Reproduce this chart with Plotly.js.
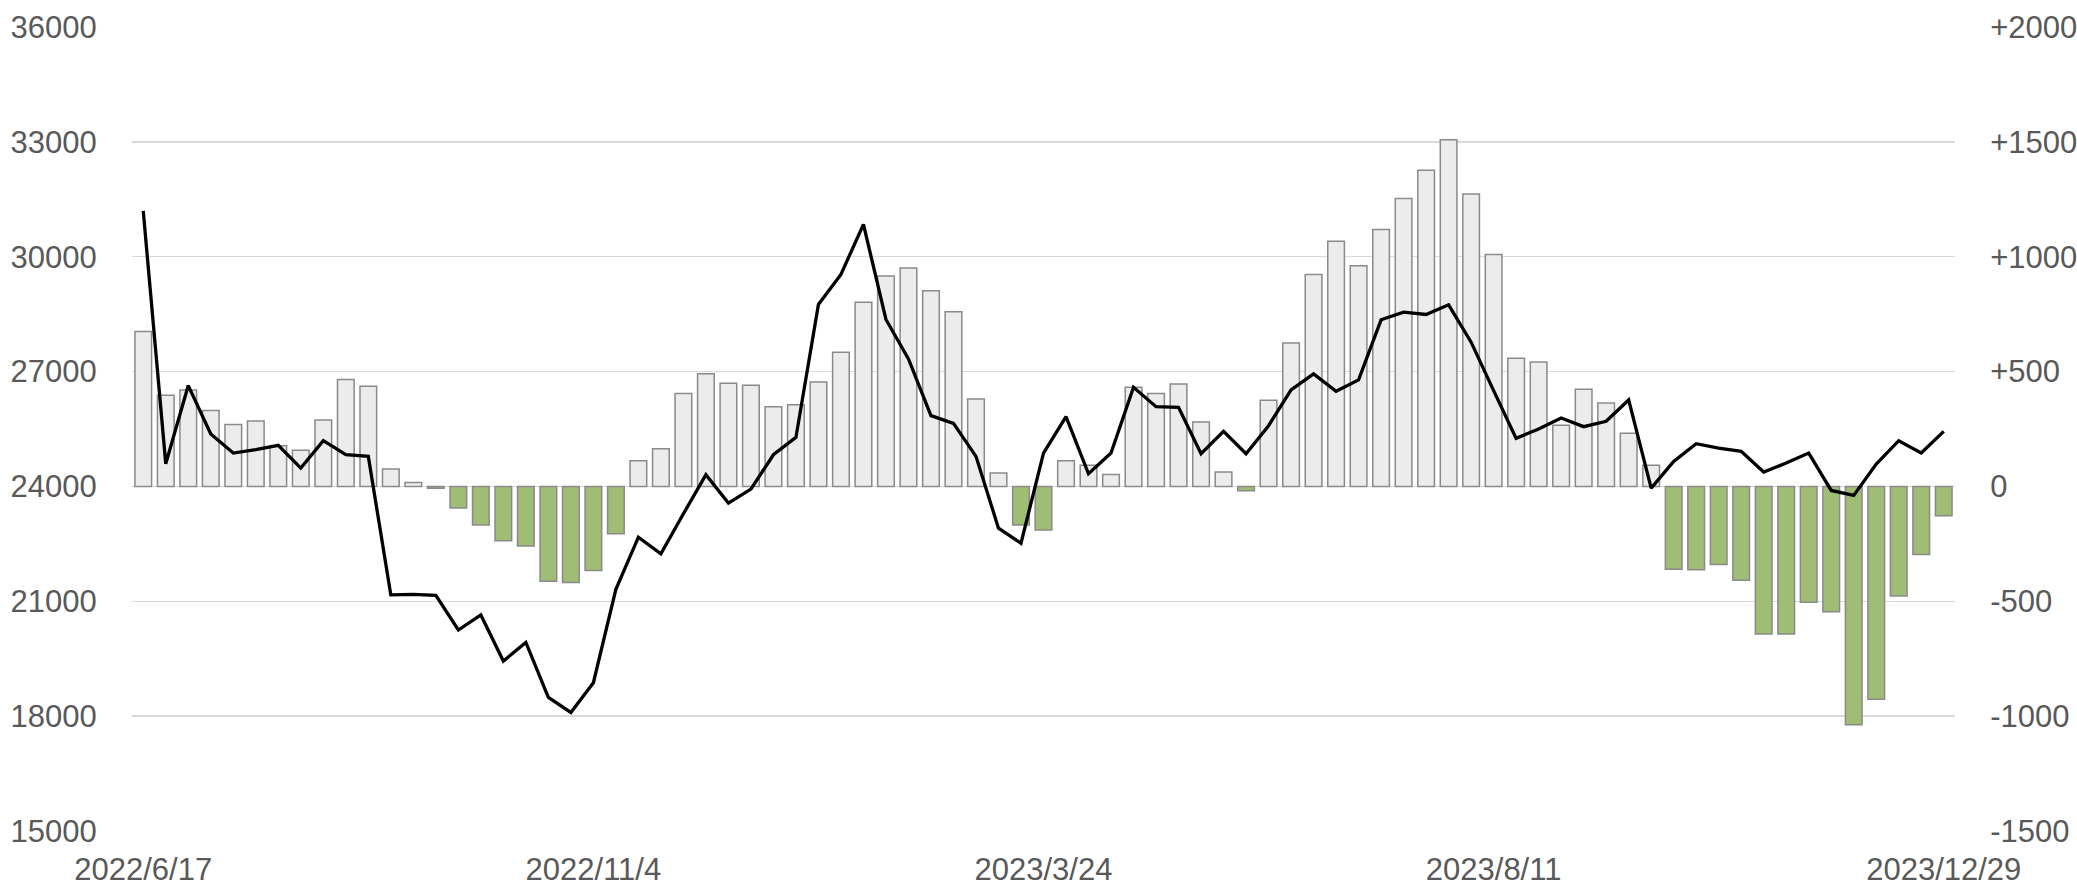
<!DOCTYPE html>
<html>
<head>
<meta charset="utf-8">
<script src="https://cdn.plot.ly/plotly-3.0.1.min.js"></script>
<style>
html,body{margin:0;padding:0;background:#fff;}
#chart{width:2077px;height:886px;}
</style>
</head>
<body>
<div id="chart"></div>
<script>
var dates = [
"2022/6/17","2022/6/24","2022/7/1","2022/7/8","2022/7/15","2022/7/22","2022/7/29","2022/8/5","2022/8/12","2022/8/19",
"2022/8/26","2022/9/2","2022/9/9","2022/9/16","2022/9/23","2022/9/30","2022/10/7","2022/10/14","2022/10/21","2022/10/28",
"2022/11/4","2022/11/11","2022/11/18","2022/11/25","2022/12/2","2022/12/9","2022/12/16","2022/12/23","2022/12/30","2023/1/6",
"2023/1/13","2023/1/20","2023/1/27","2023/2/3","2023/2/10","2023/2/17","2023/2/24","2023/3/3","2023/3/10","2023/3/17",
"2023/3/24","2023/3/31","2023/4/7","2023/4/14","2023/4/21","2023/4/28","2023/5/5","2023/5/12","2023/5/19","2023/5/26",
"2023/6/2","2023/6/9","2023/6/16","2023/6/23","2023/6/30","2023/7/7","2023/7/14","2023/7/21","2023/7/28","2023/8/4",
"2023/8/11","2023/8/18","2023/8/25","2023/9/1","2023/9/8","2023/9/15","2023/9/22","2023/9/29","2023/10/6","2023/10/13",
"2023/10/20","2023/10/27","2023/11/3","2023/11/10","2023/11/17","2023/11/24","2023/12/1","2023/12/8","2023/12/15","2023/12/22",
"2023/12/29"
];

// black line, left axis
var level = [
31195,24593,26634,25369,24872,24959,25073,24480,25195,24828,
24785,21166,21183,21157,20250,20642,19439,19927,18488,18096,
18872,21314,22674,22238,23285,24305,23564,23930,24828,25280,
28753,29538,30846,28361,27331,25849,25648,24785,22910,22517,
24872,25823,24331,24872,26590,26084,26067,24855,25439,24855,
25587,26520,26939,26485,26782,28352,28552,28491,28744,27768,
26503,25256,25500,25788,25561,25701,26259,23956,24654,25116,
25003,24916,24375,24610,24872,23895,23765,24584,25195,24872,
25439
];

// bars, right axis
var change = [
674,397,420,331,270,285,177,158,289,465,
436,76,17,-8,-94,-168,-237,-259,-413,-418,
-366,-206,112,164,405,491,449,440,347,356,
455,584,802,916,951,852,760,381,58,-168,
-190,112,92,52,432,404,446,280,63,-19,
375,624,923,1067,961,1119,1253,1376,1509,1273,
1010,558,542,266,423,363,231,92,-360,-363,
-340,-408,-642,-642,-504,-546,-1038,-926,-477,-296,
-128
];

var leftTicks = [15000,18000,21000,24000,27000,30000,33000,36000];
var rightTicks = [-1500,-1000,-500,0,500,1000,1500,2000];
var rightTickText = ["-1500","-1000","-500","0","+500","+1000","+1500","+2000"];
var xTickVals = ["2022/6/17","2022/11/4","2023/3/24","2023/8/11","2023/12/29"];

var barColors = change.map(function(v){ return v < 0 ? "#a0bd76" : "#ececec"; });

var font = {family: "Liberation Sans, Arial, sans-serif", size: 31, color: "#595959"};

var traces = [
  {
    type: "bar",
    x: dates,
    y: change,
    xaxis: "x",
    yaxis: "y",
    marker: {color: barColors, line: {color: "#8a8a8a", width: 1.5}},
    hoverinfo: "x+y"
  },
  {
    type: "scatter",
    mode: "lines",
    x: dates,
    y: level,
    xaxis: "x",
    yaxis: "y2",
    line: {color: "#000000", width: 3.3},
    hoverinfo: "x+y"
  }
];

var layout = {
  width: 2077,
  height: 886,
  margin: {l: 132, r: 122, t: 27, b: 55, pad: 0},
  paper_bgcolor: "#ffffff",
  plot_bgcolor: "#ffffff",
  showlegend: false,
  font: font,
  bargap: 0.26,
  xaxis: {
    type: "category",
    range: [-0.5, 80.5],
    tickmode: "array",
    tickvals: xTickVals,
    ticktext: xTickVals,
    tickangle: 0,
    showgrid: false,
    zeroline: false,
    showline: false,
    ticks: "outside",
    ticklen: 11,
    tickcolor: "rgba(0,0,0,0)",
    tickfont: font
  },
  yaxis: {
    side: "right",
    range: [-1500, 2000],
    tickmode: "array",
    tickvals: rightTicks,
    ticktext: rightTickText,
    showgrid: true,
    gridcolor: "#d9d9d9",
    gridwidth: 1.5,
    zeroline: false,
    showline: false,
    ticks: "outside",
    ticklen: 28,
    tickcolor: "rgba(0,0,0,0)",
    tickfont: font
  },
  yaxis2: {
    overlaying: "y",
    side: "left",
    range: [15000, 36000],
    tickmode: "array",
    tickvals: leftTicks,
    ticktext: leftTicks.map(String),
    showgrid: false,
    zeroline: false,
    showline: false,
    ticks: "outside",
    ticklen: 28,
    tickcolor: "rgba(0,0,0,0)",
    tickfont: font
  }
};

Plotly.newPlot("chart", traces, layout, {displayModeBar: false, staticPlot: true});
</script>
</body>
</html>
